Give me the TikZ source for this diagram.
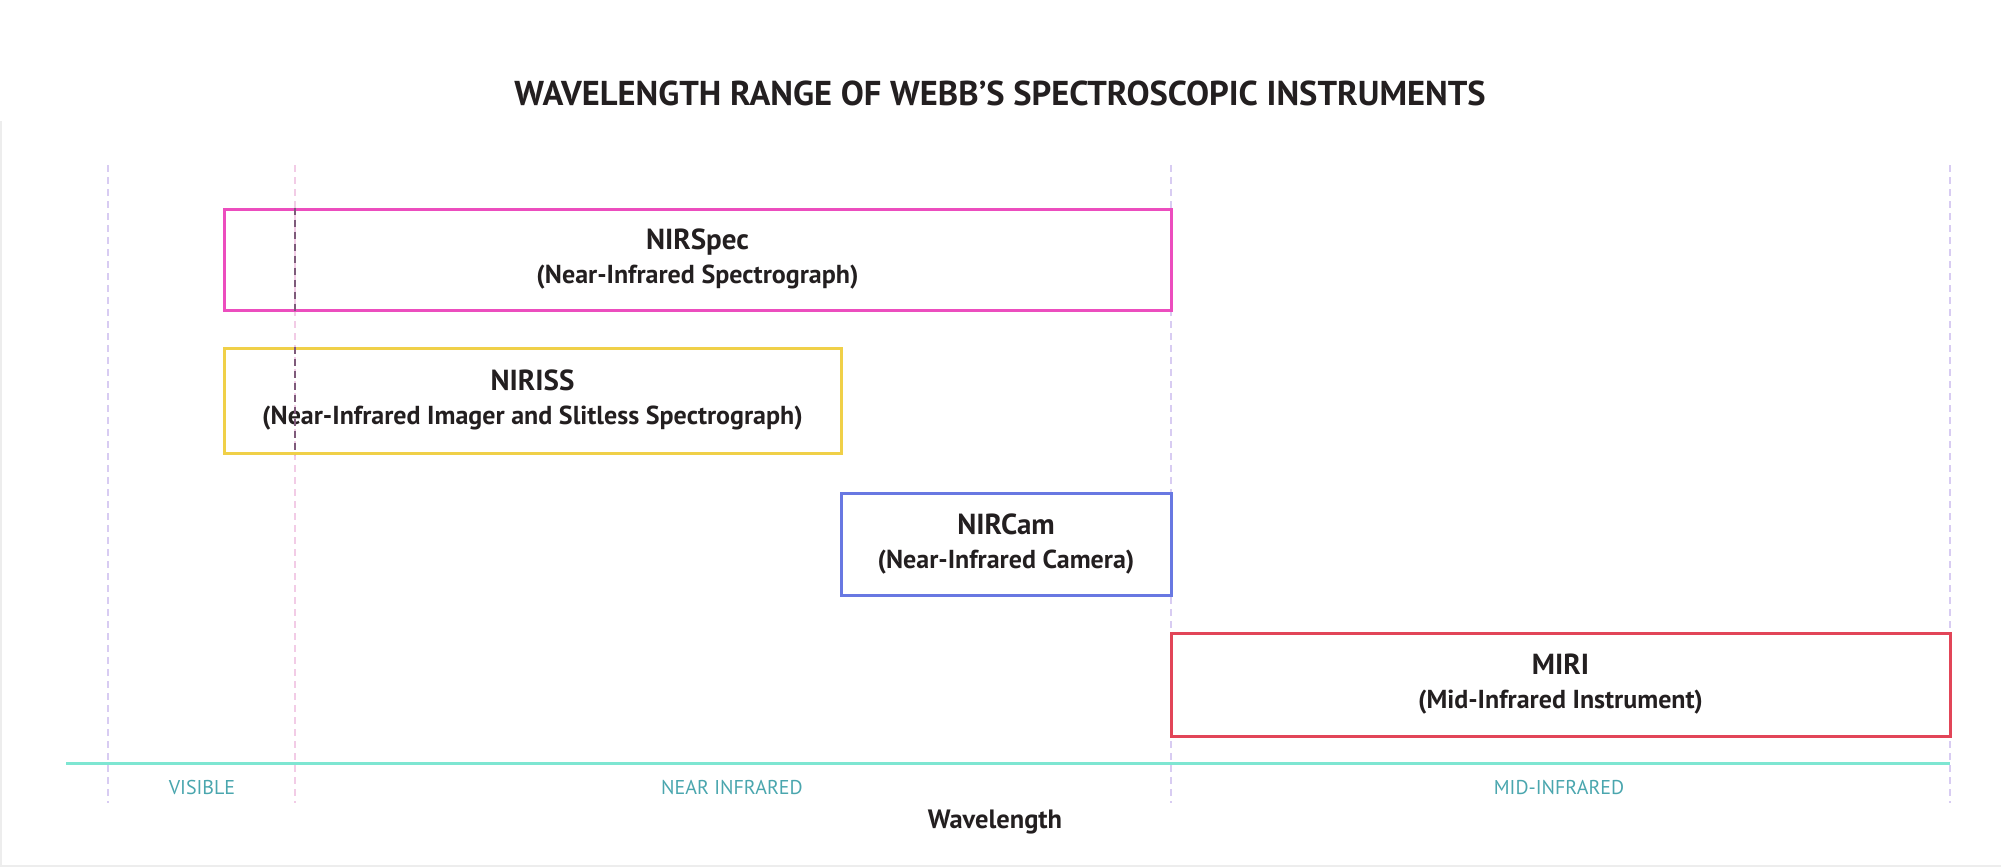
\documentclass[tikz,border=0pt]{standalone}
\usepackage{fontspec}
\setmainfont{PT Sans}
\usepackage{xcolor}
\usepackage{tikz}

\definecolor{inkdark}{HTML}{231F20}
\definecolor{specpink}{HTML}{EC4DBE}
\definecolor{issyellow}{HTML}{F0D048}
\definecolor{camblue}{HTML}{6878E2}
\definecolor{mirired}{HTML}{E24558}
\definecolor{axisteal}{HTML}{7EE6D2}
\definecolor{bandteal}{HTML}{4AA6AE}
\definecolor{guidelav}{HTML}{D8CCF2}
\definecolor{guidepink}{HTML}{F2CCE6}
\definecolor{guidedark}{HTML}{7E5A7A}

\newcommand{\insthead}[1]{{\fontsize{29}{34}\selectfont #1}}

\begin{document}
\begin{tikzpicture}[x=1pt, y=-1pt,
    inst/.style={draw, line width=3pt, align=center, inner sep=0pt, text=inkdark,
      font=\bfseries\fontsize{26}{34}\selectfont},
    band/.style={text=bandteal, font=\fontsize{20}{22}\selectfont},
    guide/.style={line width=2pt, dash pattern=on 7pt off 5pt}]
  \useasboundingbox (0,0) rectangle (2001,867);
  % frame
  \draw[black!7, line width=1.5pt] (0.75,121) -- (0.75,866) -- (2001,866);

  % Title
  \node[text=inkdark, font=\bfseries\fontsize{34.5}{40}\selectfont] (title) at (1000,93)
    {WAVELENGTH RANGE OF WEBB’S SPECTROSCOPIC INSTRUMENTS};

  % Band limits
  \coordinate (g1) at (108,165);
  \coordinate (g2) at (295,165);
  \coordinate (g3) at (1171,165);
  \coordinate (g4) at (1950,165);
  \draw[guide, guidelav]  (g1) -- (108,803);
  \draw[guide, guidepink] (g2) -- (295,803);
  \draw[guide, guidelav]  (g3) -- (1171,803);
  \draw[guide, guidelav]  (g4) -- (1950,803);

  % Instruments
  \node[inst, draw=specpink, minimum width=947pt, minimum height=101pt] (nirspec) at (697.5,259.5)
    {\insthead{NIRSpec}\\(Near-Infrared Spectrograph)};
  \node[inst, draw=issyellow, minimum width=617pt, minimum height=105pt] (niriss) at (532.5,400.5)
    {\insthead{NIRISS}\\(Near-Infrared Imager and Slitless Spectrograph)};
  \node[inst, draw=camblue, minimum width=330pt, minimum height=102pt] (nircam) at (1006,544)
    {\insthead{NIRCam}\\(Near-Infrared Camera)};
  \node[inst, draw=mirired, minimum width=779pt, minimum height=103pt] (miri) at (1560.5,684.5)
    {\insthead{MIRI}\\(Mid-Infrared Instrument)};

  % guide seen through the boxes
  \draw[guide, guidedark] (nirspec.north -| g2) -- (nirspec.south -| g2);
  \draw[guide, guidedark] (niriss.north -| g2) -- (niriss.south -| g2);

  % Wavelength axis
  \coordinate (axl) at (66,763);
  \coordinate (axr) at (1950,763);
  \draw[axisteal, line width=3pt] (axl) -- (axr);
  \node[band] (vis) at (202,787) {VISIBLE};
  \node[band] (nir) at (732,787) {NEAR INFRARED};
  \node[band] (mir) at (1559,787) {MID-INFRARED};
  \node[text=inkdark, font=\bfseries\fontsize{26.5}{30}\selectfont] (wave) at (995,822) {Wavelength};
\end{tikzpicture}
\end{document}
